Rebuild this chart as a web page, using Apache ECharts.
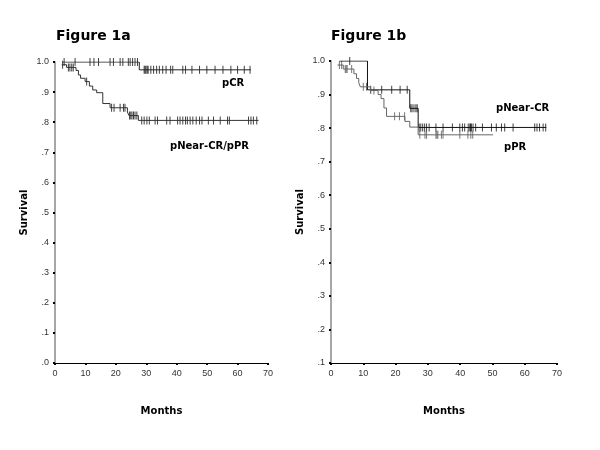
<!DOCTYPE html>
<html><head><meta charset="utf-8">
<script src="https://cdn.jsdelivr.net/npm/echarts@6/dist/echarts.min.js"></script>
<style>html,body{margin:0;padding:0;background:#fff}#c{width:600px;height:450px}</style>
</head><body><div id="c"></div>
<script>
// ---- Figure 1a ----
const A_pCR_t = [2.5, 27.7, 64.4];
const A_pCR_s = [1.0, 0.974, 0.974];
const A_pCR_cens = [3.0, 6.6, 11.5, 12.8, 14.3, 18.1, 19.2, 21.4, 22.3, 24.1, 24.7, 25.5, 26.3, 27.1,
  29.3, 29.6, 29.9, 30.3, 30.6, 31.5, 32.4, 33.4, 34.3, 35.4, 36.5, 38.0, 38.7, 42.0, 42.9, 45.0,
  47.5, 49.9, 52.6, 55.2, 57.8, 60.0, 62.2, 64.1];

const A_pNear_t = [2.2, 3.8, 6.9, 7.7, 8.4, 9.9, 11.3, 12.4, 13.7, 15.7, 18.1, 23.8, 24.3, 27.4, 66.9];
const A_pNear_s = [0.991, 0.982, 0.972, 0.957, 0.946, 0.935, 0.92, 0.907, 0.898, 0.862, 0.848, 0.834, 0.822, 0.806, 0.806];
const A_pNear_cens = [2.5, 4.4, 4.9, 5.5, 6.0, 10.4, 18.6, 19.4, 21.4, 22.5, 23.0,
  24.5, 24.9, 25.3, 25.8, 26.3, 26.9,
  28.5, 29.3, 30.2, 31.0, 32.9, 33.7, 36.7, 37.8, 40.3, 41.1, 42.0, 42.9, 43.5, 44.4, 45.3, 46.4,
  47.5, 48.3, 50.4, 52.1, 54.3, 56.7, 57.3, 63.6, 64.4, 65.2, 66.3];

// ---- Figure 1b ----
const B_pNear_t = [2.7, 11.3, 24.4, 27.0, 66.7];
const B_pNear_s = [1.0, 0.914, 0.859, 0.802, 0.802];
const B_pNear_cens = [5.8, 12.3, 15.7, 18.8, 21.4, 23.6, 24.7, 25.1, 25.7, 26.3,
  26.7, 27.3, 27.8, 28.4, 29.0, 29.6, 30.4, 32.5, 34.7, 37.6, 39.9, 40.7, 41.4, 42.5, 43.0, 43.2,
  43.5, 44.0, 44.8, 46.9, 49.7, 51.2, 52.8, 53.8, 56.4, 63.1, 63.8, 64.6, 65.7, 66.5];

const B_pPR_t = [2.0, 3.8, 7.1, 7.9, 8.6, 9.1, 12.2, 14.6, 15.5, 16.4, 17.2, 22.9, 24.4, 27.0, 50.2];
const B_pPR_s = [0.988, 0.976, 0.962, 0.948, 0.935, 0.923, 0.912, 0.9, 0.888, 0.86, 0.835, 0.82, 0.803, 0.78, 0.78];
const B_pPR_cens = [2.6, 3.3, 4.4, 4.7, 5.0, 6.4, 10.0, 11.0, 13.3, 19.7, 21.2, 22.8,
  27.5, 29.1, 29.6, 32.5, 32.8, 33.1, 34.2, 34.7, 39.9, 42.4, 43.3, 43.9];

const xTicks = [0, 10, 20, 30, 40, 50, 60, 70];

function steps(t, s) { return t.map((v, i) => [v, s[i]]); }
function cens(t, s, c) {
  return c.map(x => {
    let v = s[0];
    for (let i = 0; i < t.length; i++) if (t[i] <= x) v = s[i];
    return [x, v];
  });
}
const yFmt = v => (Math.abs(v - 1) < 1e-9 ? '1.0' : v.toFixed(1).replace(/^0/, ''));
const lbl = { fontFamily: 'Liberation Sans, Arial', fontSize: 9, color: '#333' };
const nameStyle = { fontFamily: 'DejaVu Sans', fontWeight: 'bold', fontSize: 10, color: '#000' };

function xAx(gi) {
  return { type: 'value', gridIndex: gi, min: xTicks[0], max: xTicks[xTicks.length - 1], interval: 10,
    name: 'Months', nameLocation: 'middle', nameGap: 43, nameTextStyle: nameStyle,
    axisLine: { lineStyle: { color: '#000', width: 1 } },
    axisTick: { length: 2, lineStyle: { color: '#000', width: 2 } },
    axisLabel: Object.assign({ margin: 6 }, lbl), splitLine: { show: false } };
}
function yAx(gi, min) {
  return { type: 'value', gridIndex: gi, min: min, max: 1.0, interval: 0.1,
    name: 'Survival', nameLocation: 'middle', nameGap: 26, nameTextStyle: nameStyle,
    axisLine: { lineStyle: { color: '#888', width: 1.5 } },
    axisTick: { length: 2, lineStyle: { color: '#000', width: 2 } },
    axisLabel: Object.assign({ margin: 6, formatter: yFmt }, lbl), splitLine: { show: false } };
}
function lineS(xi, data, color) {
  return { type: 'line', xAxisIndex: xi, yAxisIndex: xi, step: 'end', data: data, symbol: 'none',
    lineStyle: { color: color, width: 1 }, animation: false, silent: true };
}
function censS(xi, data, color) {
  return { type: 'scatter', xAxisIndex: xi, yAxisIndex: xi, data: data, symbol: 'rect',
    symbolSize: [1, 8], itemStyle: { color: color }, animation: false, silent: true };
}
const chart = echarts.init(document.getElementById('c'), null, { renderer: 'canvas' });
chart.setOption({
  backgroundColor: '#fff',
  animation: false,
  title: [
    { text: 'Figure 1a', left: 51, top: 24, textStyle: { fontFamily: 'DejaVu Sans', fontWeight: 'bold', fontSize: 14, color: '#000' } },
    { text: 'Figure 1b', left: 326, top: 24, textStyle: { fontFamily: 'DejaVu Sans', fontWeight: 'bold', fontSize: 14, color: '#000' } }
  ],
  grid: [
    { left: 55, top: 62, width: 213, height: 301 },
    { left: 331, top: 61, width: 226, height: 302 }
  ],
  xAxis: [xAx(0), xAx(1)],
  yAxis: [yAx(0, 0), yAx(1, 0.1)],
  series: [
    lineS(0, steps(A_pCR_t, A_pCR_s), '#222'),
    censS(0, cens(A_pCR_t, A_pCR_s, A_pCR_cens), '#111'),
    lineS(0, steps(A_pNear_t, A_pNear_s), '#333'),
    censS(0, cens(A_pNear_t, A_pNear_s, A_pNear_cens), '#111'),
    lineS(1, steps(B_pNear_t, B_pNear_s), '#111'),
    censS(1, cens(B_pNear_t, B_pNear_s, B_pNear_cens), '#111'),
    lineS(1, steps(B_pPR_t, B_pPR_s), '#666'),
    censS(1, cens(B_pPR_t, B_pPR_s, B_pPR_cens), '#555')
  ],
  graphic: [
    { type: 'text', left: 222, top: 78, style: { text: 'pCR', font: 'bold 10px "DejaVu Sans"', fill: '#000' } },
    { type: 'text', left: 170, top: 141, style: { text: 'pNear-CR/pPR', font: 'bold 10px "DejaVu Sans"', fill: '#000' } },
    { type: 'text', left: 496, top: 103, style: { text: 'pNear-CR', font: 'bold 10px "DejaVu Sans"', fill: '#000' } },
    { type: 'text', left: 504, top: 142, style: { text: 'pPR', font: 'bold 10px "DejaVu Sans"', fill: '#000' } }
  ]
});
</script></body></html>
